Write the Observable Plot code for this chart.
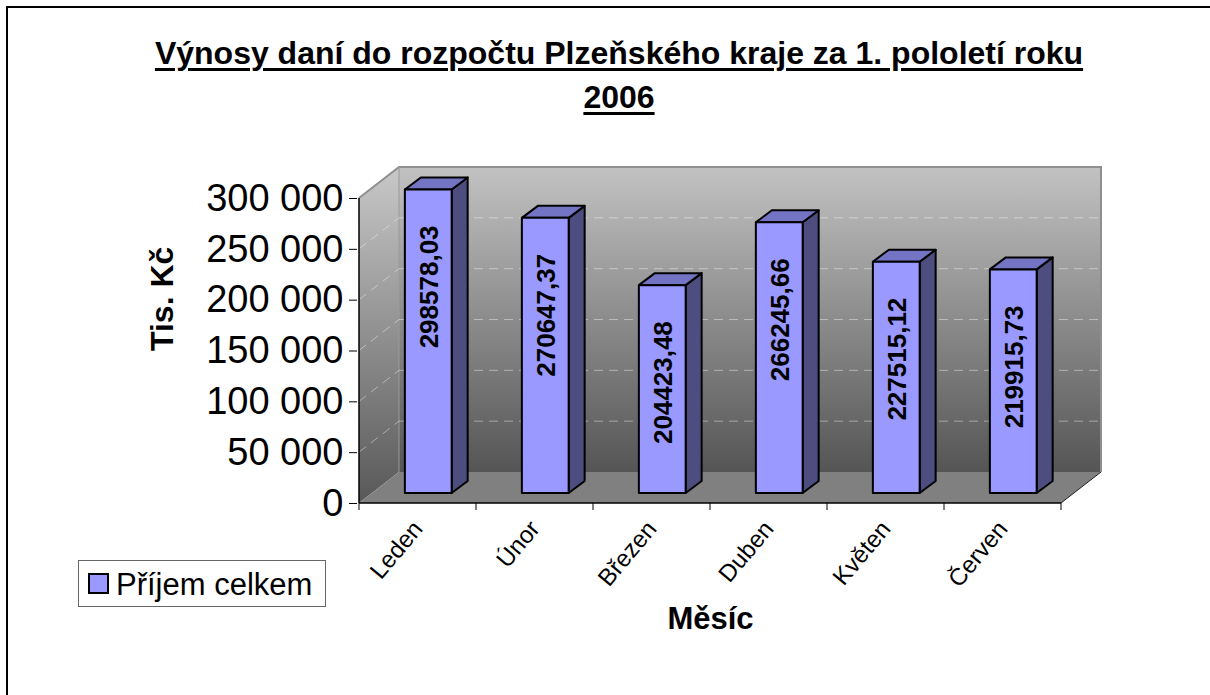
<!DOCTYPE html>
<html>
<head>
<meta charset="utf-8">
<script src="https://cdn.jsdelivr.net/npm/d3@7"></script>
<script src="https://cdn.jsdelivr.net/npm/@observablehq/plot@0.6"></script>
<style>
html, body { margin: 0; padding: 0; background: #fff; overflow: hidden; }
#wrap { position: relative; width: 1210px; height: 695px; overflow: hidden;
  font-family: "Liberation Sans", Arial, sans-serif; color: #000; }
#frame { position: absolute; left: 6px; top: 6px; width: 1400px; height: 900px;
  border: 2px solid #000; box-sizing: border-box; pointer-events: none; }
#title { height: 120px; box-sizing: border-box; padding-top: 31px; padding-left: 28px;
  width: 1210px; text-align: center; font-weight: bold; font-size: 32px; line-height: 44px;
  text-decoration: underline; text-decoration-thickness: 3px; text-underline-offset: 4px; }
#chart svg { display: block; }
#legend { position: absolute; left: 78px; top: 560px; width: 248px; height: 47px;
  border: 1px solid #666; box-sizing: border-box; background: #fff; }
#legend .sw { position: absolute; left: 9px; top: 12px; width: 21px; height: 21px;
  box-sizing: border-box; border: 2px solid #000; background: #9999ff; }
#legend .lt { position: absolute; left: 37px; top: 8px; font-size: 31px; line-height: 31px; white-space: nowrap; }
</style>
</head>
<body>
<div id="wrap">
  <div id="title"></div>
  <div id="chart"></div>
  <div id="legend"><div class="sw"></div><div class="lt"></div></div>
  <div id="frame"></div>
</div>
<script>
// ---- data ----
const titleLines = ["Výnosy daní do rozpočtu Plzeňského kraje za 1. pololetí roku", "2006"];
const months = ["Leden", "Únor", "Březen", "Duben", "Květen", "Červen"];
const values = [298578.03, 270647.37, 204423.48, 266245.66, 227515.12, 219915.73];
const yTicks = [0, 50000, 100000, 150000, 200000, 250000, 300000];
const seriesName = "Příjem celkem";
const yLabel = "Tis. Kč";
const xLabel = "Měsíc";

const rows = months.map((m, i) => ({month: m, value: values[i]}));
const yMax = yTicks[yTicks.length - 1];
const locale = d3.formatLocale({decimal: ",", thousands: " ", grouping: [3], currency: ["", ""]});
const fmtTick = locale.format(",.0f");
const fmtVal = v => v.toFixed(2).replace(".", ",");

document.getElementById("title").innerHTML = titleLines.join("<br>");
document.querySelector("#legend .lt").textContent = seriesName;

const FONT = "Liberation Sans, Arial, sans-serif";

function scene(index, scales) {
  const x = scales.x, y = scales.y;
  const bw = x(months[1]) - x(months[0]);
  const xL = x(months[0]);
  const xR = x(months[months.length - 1]) + bw;
  const y0 = y(0), yT = y(yMax);
  const DX = 40, DY = -31;          // depth of the 3D box
  const BDX = 16, BDY = -12;        // depth of one bar
  const P = a => a.map(p => p.join(",")).join(" ");
  const g = d3.create("svg:g");
  const defs = g.append("defs");
  const mk = (id, y1, y2, c1, c2) => {
    const lg = defs.append("linearGradient").attr("id", id).attr("gradientUnits", "userSpaceOnUse")
      .attr("x1", 0).attr("x2", 0).attr("y1", y1).attr("y2", y2);
    lg.append("stop").attr("offset", 0).attr("stop-color", c1);
    lg.append("stop").attr("offset", 1).attr("stop-color", c2);
  };
  mk("wallGrad", yT + DY, y0 + DY, "#c2c2c2", "#555555");
  mk("sideGrad", yT + DY, y0, "#c8c8c8", "#585858");

  // back wall
  g.append("polygon").attr("points", P([[xL + DX, yT + DY], [xR + DX, yT + DY], [xR + DX, y0 + DY], [xL + DX, y0 + DY]]))
    .attr("fill", "url(#wallGrad)");
  // side wall
  g.append("polygon").attr("points", P([[xL, yT], [xL + DX, yT + DY], [xL + DX, y0 + DY], [xL, y0]]))
    .attr("fill", "url(#sideGrad)");
  // floor
  g.append("polygon").attr("points", P([[xL, y0], [xR, y0], [xR + DX, y0 + DY], [xL + DX, y0 + DY]]))
    .attr("fill", "#808080");
  // wall edges
  g.append("polyline").attr("points", P([[xL, yT], [xL + DX, yT + DY], [xR + DX, yT + DY], [xR + DX, y0 + DY]]))
    .attr("fill", "none").attr("stroke", "#8f8f8f").attr("stroke-width", 2);
  g.append("line").attr("x1", xR).attr("y1", y0).attr("x2", xR + DX).attr("y2", y0 + DY)
    .attr("stroke", "#222").attr("stroke-width", 1);
  g.append("line").attr("x1", xL + DX).attr("y1", yT + DY).attr("x2", xL + DX).attr("y2", y0 + DY)
    .attr("stroke", "#9a9a9a").attr("stroke-width", 1);

  // gridlines
  yTicks.filter(v => v > 0 && v < yMax).forEach(v => {
    const yy = y(v);
    g.append("line").attr("x1", xL + DX).attr("x2", xR + DX).attr("y1", yy + DY).attr("y2", yy + DY)
      .attr("stroke", "#fff").attr("stroke-opacity", 0.42).attr("stroke-dasharray", "9,6");
    g.append("line").attr("x1", xL).attr("x2", xL + DX).attr("y1", yy).attr("y2", yy + DY)
      .attr("stroke", "#fff").attr("stroke-opacity", 0.42).attr("stroke-dasharray", "9,6");
  });

  // bars
  rows.forEach(d => {
    const x0 = x(d.month);
    const L = x0 + bw * 0.392, R = L + bw * 0.4;
    const B = y0 - 10, T = y(d.value) - 10;
    const s = {stroke: "#000", "stroke-width": 2, "stroke-linejoin": "round"};
    const face = (pts, fill) => {
      const p = g.append("polygon").attr("points", P(pts)).attr("fill", fill);
      for (const k in s) p.attr(k, s[k]);
    };
    face([[R, T], [R + BDX, T + BDY], [R + BDX, B + BDY], [R, B]], "#4d4d80");
    face([[L, T], [R, T], [R + BDX, T + BDY], [L + BDX, T + BDY]], "#7474c4");
    face([[L, T], [R, T], [R, B], [L, B]], "#9999ff");
    g.append("text")
      .attr("transform", `translate(${(L + R) / 2},${T + 36}) rotate(-90)`)
      .attr("text-anchor", "end").attr("dy", "0.36em")
      .attr("font-family", FONT).attr("font-size", 26).attr("font-weight", "bold")
      .text(fmtVal(d.value));
  });

  // axis lines and category ticks
  g.append("line").attr("x1", xL).attr("x2", xL).attr("y1", yT).attr("y2", y0)
    .attr("stroke", "#000").attr("stroke-width", 1.5);
  g.append("line").attr("x1", xL).attr("x2", xR).attr("y1", y0).attr("y2", y0)
    .attr("stroke", "#000").attr("stroke-width", 1.5);
  for (let k = 0; k <= months.length; k++) {
    g.append("line").attr("x1", xL + k * bw).attr("x2", xL + k * bw).attr("y1", y0).attr("y2", y0 + 7)
      .attr("stroke", "#000").attr("stroke-width", 1);
  }
  return g.node();
}

const chart = Plot.plot({
  width: 1210,
  height: 575,
  marginLeft: 357,
  marginRight: 147,
  marginTop: 78,
  marginBottom: 192,
  style: {background: "transparent", overflow: "visible", fontFamily: FONT, color: "#000"},
  x: {type: "band", domain: months, padding: 0},
  y: {domain: [0, yMax]},
  marks: [
    scene,
    Plot.axisY(yTicks, {tickSize: 8, tickPadding: 6, tickFormat: fmtTick, fontSize: 38, label: null}),
    Plot.axisX(months, {tickSize: 0, tickRotate: -50, tickPadding: 21, fontSize: 24, label: null}),
    Plot.text([yLabel], {text: d => d, frameAnchor: "left", dx: -195, rotate: -90, fontSize: 32, fontWeight: "bold"}),
    Plot.text([xLabel], {text: d => d, frameAnchor: "bottom", dy: 125, fontSize: 31, fontWeight: "bold"})
  ]
});
document.getElementById("chart").appendChild(chart);
</script>
</body>
</html>
